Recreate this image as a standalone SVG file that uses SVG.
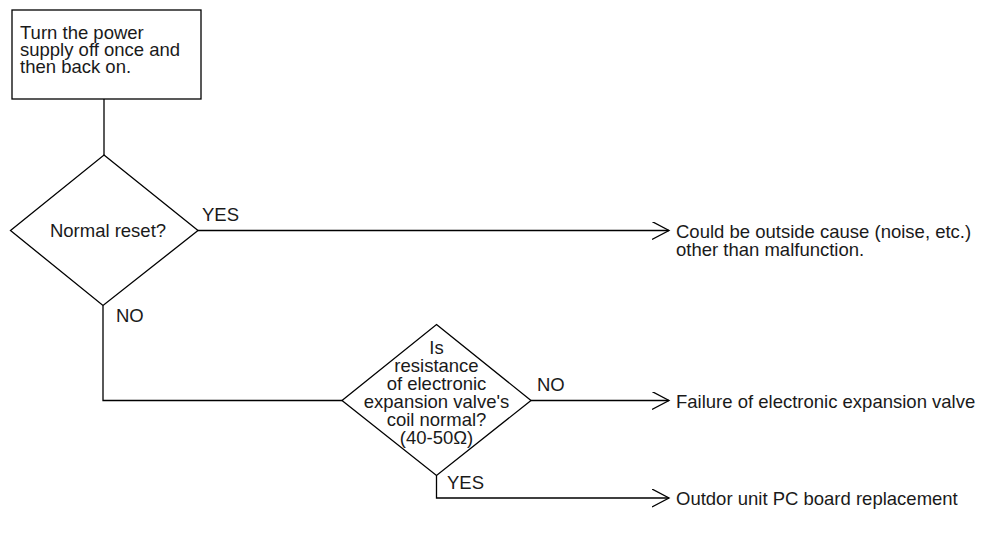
<svg xmlns="http://www.w3.org/2000/svg" width="989" height="540" viewBox="0 0 989 540">
  <style>
    .shape { fill: #ffffff; stroke: #000000; stroke-width: 1.3; }
    .wire { fill: none; stroke: #000000; stroke-width: 1.3; }
    text { font-family: "Liberation Sans", Arial, sans-serif; font-size: 18.5px; fill: #1a1a1a; }
    .mid { text-anchor: middle; }
  </style>
  <defs>
    <marker id="open-arrow" markerWidth="20" markerHeight="20" refX="17" refY="9" orient="auto" markerUnits="userSpaceOnUse">
      <path d="M0,0 L17,9 L0,18" fill="none" stroke="#000000" stroke-width="1.3"/>
    </marker>
  </defs>
  <rect width="989" height="540" fill="#ffffff"/>

  <g id="connectors">
    <line class="wire" x1="104" y1="99" x2="104" y2="155"/>
    <line class="wire" x1="198" y1="230.5" x2="669" y2="230.5" marker-end="url(#open-arrow)"/>
    <polyline class="wire" points="103,305.5 103,400.5 342,400.5"/>
    <line class="wire" x1="531" y1="400.5" x2="669" y2="400.5" marker-end="url(#open-arrow)"/>
    <polyline class="wire" points="436.5,475.5 436.5,498 669,498" marker-end="url(#open-arrow)"/>
    <text x="202" y="221">YES</text>
    <text x="116" y="322">NO</text>
    <text x="537" y="391">NO</text>
    <text x="447" y="489">YES</text>
  </g>

  <g id="start">
    <rect class="shape" x="12" y="10" width="189" height="89"/>
    <text x="20" y="39">Turn the power</text>
    <text x="20" y="56">supply off once and</text>
    <text x="20" y="73">then back on.</text>
  </g>

  <g id="reset-check">
    <polygon class="shape" points="104,155 198,230.5 103,305.5 10.5,230.5"/>
    <text class="mid" x="108" y="237">Normal reset?</text>
  </g>

  <g id="coil-check">
    <polygon class="shape" points="436.5,324.5 531,400.5 436.5,475.5 342,400.5"/>
    <text class="mid" x="436.5" y="354">Is</text>
    <text class="mid" x="436.5" y="372">resistance</text>
    <text class="mid" x="436.5" y="390">of electronic</text>
    <text class="mid" x="436.5" y="408">expansion valve's</text>
    <text class="mid" x="436.5" y="426">coil normal?</text>
    <text class="mid" x="436.5" y="444">(40-50Ω)</text>
  </g>

  <g id="outside-cause">
    <text x="676" y="238">Could be outside cause (noise, etc.)</text>
    <text x="676" y="256">other than malfunction.</text>
  </g>

  <g id="valve-failure">
    <text x="676" y="408">Failure of electronic expansion valve</text>
  </g>

  <g id="board-replacement">
    <text x="676" y="505">Outdor unit PC board replacement</text>
  </g>
</svg>
